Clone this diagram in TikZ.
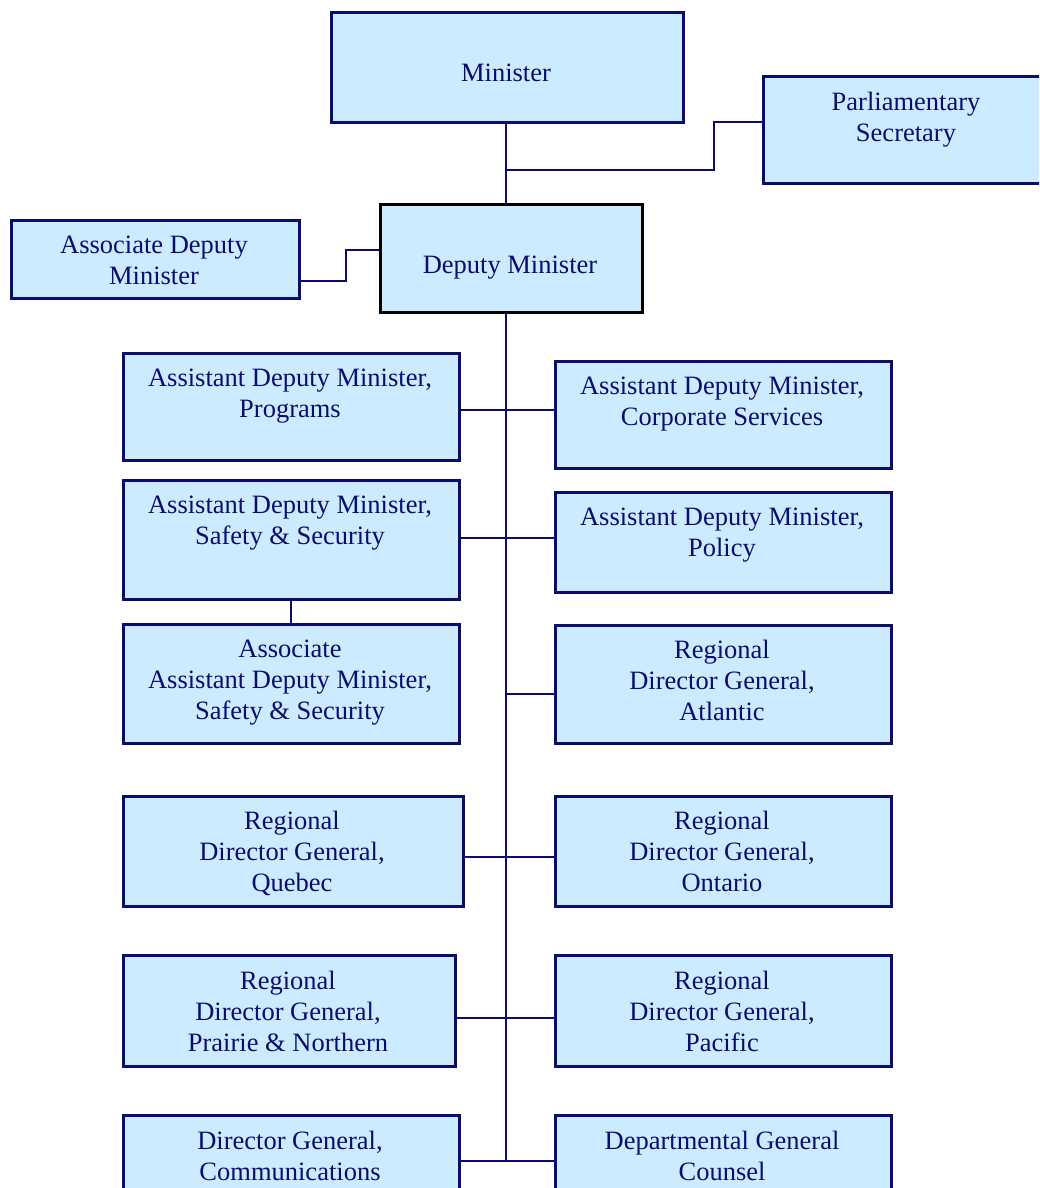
\documentclass[tikz,border=0pt]{standalone}
\usepackage{fontspec}
\setmainfont{Liberation Serif}
\definecolor{navy}{RGB}{12,12,112}
\definecolor{boxfill}{RGB}{204,235,255}
\tikzset{
  box/.style={draw=navy, line width=2.6pt, fill=boxfill, rectangle, inner sep=0pt, anchor=north west},
  lbl/.style={text=navy, font=\fontsize{26.5}{30.8}\selectfont, align=center, inner sep=0pt, anchor=north},
  conn/.style={draw=navy, line width=2pt},
}
\begin{document}
\begin{tikzpicture}[x=1pt,y=-1pt]
\clip (0,0) rectangle (1039,1188);
\fill[white] (0,0) rectangle (1039,1188);
% boxes
\node[box, minimum width=352, minimum height=110] (min) at (330,11) {};
\node[box, minimum width=290, minimum height=107] (ps) at (762,75) {};
\node[box, minimum width=288, minimum height=78] (adm) at (10,219) {};
\node[box, draw=black, line width=3pt, minimum width=262, minimum height=108] (dm) at (379,203) {};
\node[box, minimum width=336, minimum height=107] (prog) at (122,352) {};
\node[box, minimum width=336, minimum height=107] (corp) at (554,360) {};
\node[box, minimum width=336, minimum height=119] (ss) at (122,479) {};
\node[box, minimum width=336, minimum height=100] (pol) at (554,491) {};
\node[box, minimum width=336, minimum height=119] (ass) at (122,623) {};
\node[box, minimum width=336, minimum height=118] (atl) at (554,624) {};
\node[box, minimum width=340, minimum height=110] (que) at (122,795) {};
\node[box, minimum width=336, minimum height=110] (ont) at (554,795) {};
\node[box, minimum width=332, minimum height=111] (pra) at (122,954) {};
\node[box, minimum width=336, minimum height=111] (pac) at (554,954) {};
\node[box, minimum width=336, minimum height=116] (dgc) at (122,1114) {};
\node[box, minimum width=336, minimum height=116] (dgl) at (554,1114) {};
% labels
\node[lbl] (min-t) at (506,64) {Minister};
\node[lbl] (ps-t) at (906,92) {Parliamentary\\Secretary};
\node[lbl] (adm-t) at (154,236) {Associate Deputy\\Minister};
\node[lbl] (dm-t) at (510,256) {Deputy Minister};
\node[lbl] (prog-t) at (290,369) {Assistant Deputy Minister,\\Programs};
\node[lbl] (corp-t) at (722,377) {Assistant Deputy Minister,\\Corporate Services};
\node[lbl] (ss-t) at (290,496) {Assistant Deputy Minister,\\Safety \& Security};
\node[lbl] (pol-t) at (722,508) {Assistant Deputy Minister,\\Policy};
\node[lbl] (ass-t) at (290,640) {Associate\\Assistant Deputy Minister,\\Safety \& Security};
\node[lbl] (atl-t) at (722,640) {Regional\\Director General,\\Atlantic};
\node[lbl] (que-t) at (292,811) {Regional\\Director General,\\Quebec};
\node[lbl] (ont-t) at (722,811) {Regional\\Director General,\\Ontario};
\node[lbl] (pra-t) at (288,971) {Regional\\Director General,\\Prairie \& Northern};
\node[lbl] (pac-t) at (722,971) {Regional\\Director General,\\Pacific};
\node[lbl] (dgc-t) at (290,1131) {Director General,\\Communications};
\node[lbl] (dgl-t) at (722,1131) {Departmental General\\Counsel};
% connectors
\coordinate (j1) at (506,170);
\coordinate (b1) at (714,170);
\coordinate (b2) at (714,122);
\coordinate (b3) at (346,281);
\coordinate (b4) at (346,250);
\coordinate (trunk) at (506,1161);
\draw[conn] (min.south -| j1) -- (dm.north -| j1);
\draw[conn] (j1) -- (b1) -- (b2) -- (ps.west |- b2);
\draw[conn] (adm.east |- b3) -- (b3) -- (b4) -- (dm.west |- b4);
\draw[conn] (dm.south -| trunk) -- (trunk);
\draw[conn] (prog.east |- 0,410) -- (corp.west |- 0,410);
\draw[conn] (ss.east |- 0,538) -- (pol.west |- 0,538);
\draw[conn] (ss.south) -- (ass.north);
\draw[conn] (trunk |- 0,694) -- (atl.west |- 0,694);
\draw[conn] (que.east |- 0,857) -- (ont.west |- 0,857);
\draw[conn] (pra.east |- 0,1018) -- (pac.west |- 0,1018);
\draw[conn] (dgc.east |- trunk) -- (dgl.west |- trunk);
\end{tikzpicture}
\end{document}
